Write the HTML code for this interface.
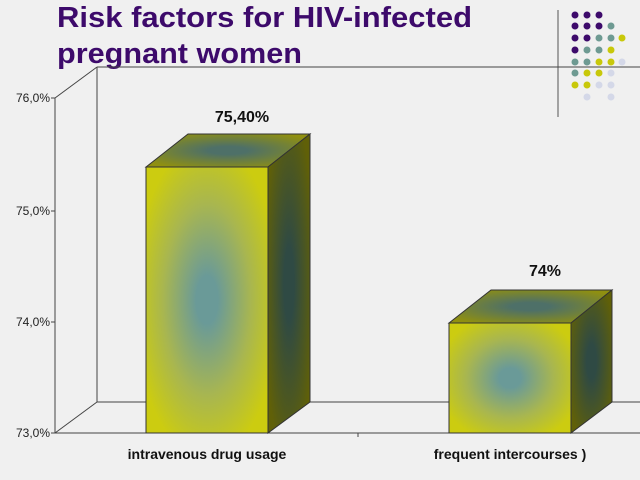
<!DOCTYPE html>
<html><head><meta charset="utf-8"><style>
body{margin:0;background:#f0f0f0;}
svg{display:block;font-family:"Liberation Sans",sans-serif;}
</style></head><body>
<svg width="640" height="480" viewBox="0 0 640 480" xmlns="http://www.w3.org/2000/svg">
<rect width="640" height="480" fill="#f0f0f0"/>
<defs>
<radialGradient id="gf" cx="0.5" cy="0.5" r="0.6"><stop offset="0.15" stop-color="#6a9a98"/><stop offset="0.6" stop-color="#a8b650"/><stop offset="1" stop-color="#cccc10"/></radialGradient>
<radialGradient id="gt" cx="0.5" cy="0.5" r="0.6"><stop offset="0.2" stop-color="#4e7068"/><stop offset="1" stop-color="#909010"/></radialGradient>
<radialGradient id="gs" cx="0.5" cy="0.5" r="0.6"><stop offset="0.2" stop-color="#2f4a44"/><stop offset="1" stop-color="#606008"/></radialGradient>
</defs>
<text x="57" y="27" font-size="29" font-weight="bold" fill="#3d0a6b" textLength="415" lengthAdjust="spacingAndGlyphs">Risk factors for HIV-infected</text>
<text x="57" y="63" font-size="29" font-weight="bold" fill="#3d0a6b" textLength="245" lengthAdjust="spacingAndGlyphs">pregnant women</text>
<line x1="558" y1="10" x2="558" y2="117" stroke="#555"/>
<g>
<g fill="#3d0a6b"><circle cx="575" cy="15" r="3.5"/><circle cx="587" cy="15" r="3.5"/><circle cx="599" cy="15" r="3.5"/><circle cx="575" cy="26" r="3.5"/><circle cx="587" cy="26" r="3.5"/><circle cx="599" cy="26" r="3.5"/><circle cx="575" cy="38" r="3.5"/><circle cx="587" cy="38" r="3.5"/><circle cx="575" cy="50" r="3.5"/></g>
<g fill="#6e9a92"><circle cx="611" cy="26" r="3.5"/><circle cx="599" cy="38" r="3.5"/><circle cx="611" cy="38" r="3.5"/><circle cx="587" cy="50" r="3.5"/><circle cx="599" cy="50" r="3.5"/><circle cx="575" cy="62" r="3.5"/><circle cx="587" cy="62" r="3.5"/><circle cx="575" cy="73" r="3.5"/></g>
<g fill="#c8c80a"><circle cx="622" cy="38" r="3.5"/><circle cx="611" cy="50" r="3.5"/><circle cx="599" cy="62" r="3.5"/><circle cx="611" cy="62" r="3.5"/><circle cx="587" cy="73" r="3.5"/><circle cx="599" cy="73" r="3.5"/><circle cx="575" cy="85" r="3.5"/><circle cx="587" cy="85" r="3.5"/></g>
<g fill="#d4d8e8"><circle cx="622" cy="62" r="3.5"/><circle cx="611" cy="73" r="3.5"/><circle cx="599" cy="85" r="3.5"/><circle cx="611" cy="85" r="3.5"/><circle cx="587" cy="97" r="3.5"/><circle cx="611" cy="97" r="3.5"/></g>
</g>
<g stroke="#444" stroke-width="1" fill="none">
<line x1="97" y1="67" x2="640" y2="67"/>
<line x1="97" y1="67" x2="97" y2="402"/>
<line x1="97" y1="402" x2="640" y2="402"/>
<line x1="55" y1="98" x2="97" y2="67"/>
<line x1="55" y1="433" x2="97" y2="402"/>
<line x1="55" y1="98" x2="55" y2="433"/>
<line x1="55" y1="433" x2="640" y2="433"/>
<line x1="51" y1="98" x2="55" y2="98"/><line x1="51" y1="211" x2="55" y2="211"/><line x1="51" y1="322" x2="55" y2="322"/><line x1="51" y1="433" x2="55" y2="433"/>
<line x1="358" y1="433" x2="358" y2="437"/>
</g>
<g font-size="12" fill="#222" text-anchor="end">
<text x="50" y="102">76,0%</text><text x="50" y="215">75,0%</text><text x="50" y="326">74,0%</text><text x="50" y="437">73,0%</text>
</g>
<g stroke="#333" stroke-width="1">
<polygon points="146,167 188,134 310,134 268,167" fill="url(#gt)"/>
<polygon points="268,167 310,134 310,402 268,433" fill="url(#gs)"/>
<rect x="146" y="167" width="122" height="266" fill="url(#gf)"/>
<polygon points="449,323 491,290 612,290 571,323" fill="url(#gt)"/>
<polygon points="571,323 612,290 612,402 571,433" fill="url(#gs)"/>
<rect x="449" y="323" width="122" height="110" fill="url(#gf)"/>
</g>
<g font-size="16" font-weight="bold" fill="#111" text-anchor="middle">
<text x="242" y="122">75,40%</text>
<text x="545" y="276">74%</text>
</g>
<g font-size="14" font-weight="bold" fill="#111" text-anchor="middle">
<text x="207" y="459">intravenous drug usage</text>
<text x="510" y="459">frequent intercourses )</text>
</g>
</svg>
</body></html>
